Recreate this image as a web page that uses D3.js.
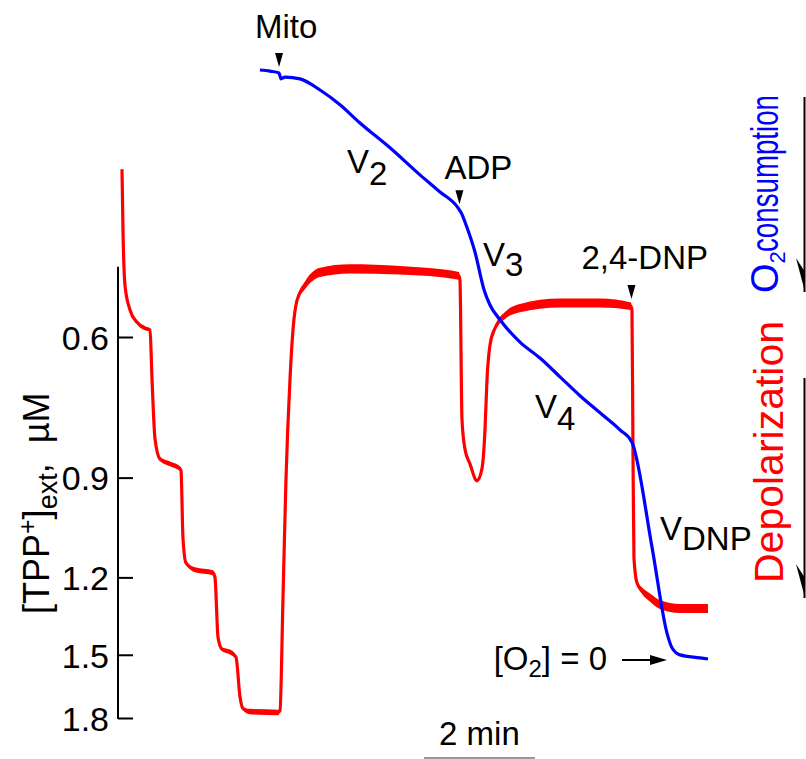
<!DOCTYPE html>
<html><head><meta charset="utf-8">
<script src="https://cdn.jsdelivr.net/npm/d3@7"></script>
<style>
body{margin:0;background:#fff}
svg{display:block}
text{font-family:"Liberation Sans",Arial,Helvetica,sans-serif;fill:#000}
</style>
</head><body>
<svg id="chart" width="806" height="759"></svg>
<script>
// ---- data (time in min, TPP+ in µM, O2 in % of initial) ----
const tppTime  = [0,0.018,0.054,0.144,0.270,0.414,0.505,0.541,0.595,0.685,0.865,1.045,1.063,1.099,1.153,1.315,1.640,1.676,1.730,1.802,1.946,2.054,2.126,2.180,2.306,2.811,2.847,2.901,2.955,3.027,3.081,3.153,3.297,3.568,4.108,5.009,6.072,6.090,6.126,6.180,6.270,6.396,6.486,6.541,6.577,6.631,6.721,6.901,7.171,7.892,8.613,9.171,9.189,9.207,9.225,9.279,9.369,9.514,9.694,10.054,10.559];
const tppValue = [0.370,0.442,0.517,0.555,0.575,0.585,0.588,0.678,0.805,0.853,0.865,0.877,0.882,1.072,1.151,1.174,1.184,1.201,1.426,1.476,1.488,1.510,1.693,1.752,1.767,1.772,1.762,1.272,0.903,0.678,0.588,0.540,0.517,0.498,0.493,0.495,0.503,0.510,0.761,0.829,0.865,0.908,0.877,0.783,0.678,0.614,0.585,0.564,0.552,0.544,0.544,0.549,0.555,0.829,1.135,1.219,1.247,1.272,1.298,1.313,1.313];
// half-width of the electrode noise band (natural-log units)
const tppNoise = [0,0,0,0.004,0.006,0.006,0.004,0,0,0.005,0.007,0.007,0.004,0,0.004,0.007,0.007,0.002,0,0.005,0.007,0.005,0,0.005,0.008,0.008,0.002,0,0,0,0.002,0.007,0.011,0.013,0.013,0.012,0.011,0.002,0,0,0.002,0.005,0.002,0,0,0.002,0.006,0.010,0.012,0.013,0.013,0.011,0.002,0,0,0.005,0.009,0.012,0.013,0.013,0.013];
const o2Time  = [2.486,2.667,2.829,2.865,2.937,3.207,3.568,3.928,4.288,4.829,5.369,5.730,6.054,6.126,6.180,6.360,6.523,6.631,6.811,7.171,7.532,7.892,8.252,8.613,8.973,9.189,9.550,9.820,9.910,10.054,10.414,10.559];
const o2Value = [100,99.8,99.5,98.5,98.8,98.5,96.6,94.1,91.0,86.8,82.2,79.3,76.6,75.5,74.2,69.1,62.7,60.1,57.6,53.8,51.1,47.9,44.7,41.8,38.9,36.8,19.0,4.4,1.9,0.7,0.2,0];
const yTicks = [0.6,0.9,1.2,1.5,1.8];
const eventLabels = ["Mito","ADP","2,4-DNP"];
const eventTimes  = [2.83,6.08,9.18];
const eventTrace  = ["o2","o2","tpp"];
const scaleBarMin = 2;

// ---- scales ----
const svg = d3.select("#chart");
const x = d3.scaleLinear().domain([0,10.559]).range([122,708]);
const yT = d3.scaleLog().domain([0.6,1.8]).range([337,718]);
const yO = d3.scaleLinear().domain([0,100]).range([659,70]);
const FONT = 33;

function interp(ts, vs, t){
  const i = Math.max(1, Math.min(ts.length-1, d3.bisectLeft(ts, t)));
  const f = (t-ts[i-1])/(ts[i]-ts[i-1]);
  return vs[i-1] + f*(vs[i]-vs[i-1]);
}

// ---- y axis ----
const axis = d3.axisLeft(yT).tickValues(yTicks).tickFormat(d3.format(".1f"))
  .tickSizeInner(-15).tickSizeOuter(0).tickPadding(9);
const gA = svg.append("g").attr("transform","translate(118,0)").call(axis);
gA.select(".domain").remove();
gA.selectAll(".tick line").attr("stroke","#000").attr("stroke-width",2);
gA.selectAll(".tick text").attr("font-size",34).attr("font-family","Liberation Sans, Arial, sans-serif").attr("fill","#000").attr("dy","0.36em");
svg.append("line").attr("x1",118).attr("x2",118).attr("y1",yT(0.49)).attr("y2",yT(1.8)+1)
  .attr("stroke","#000").attr("stroke-width",2);

// y title
const yt = svg.append("text").attr("transform","translate(49,614) rotate(-90)")
  .attr("text-anchor","start").attr("font-size",36);
yt.append("tspan").text("[TPP");
yt.append("tspan").text("+").attr("font-size",25).attr("dy",-13);
yt.append("tspan").text("]").attr("dy",13);
yt.append("tspan").text("ext").attr("font-size",27).attr("dy",8);
yt.append("tspan").text(", \u00a0µM").attr("dy",-8);

// ---- traces ----
const bandT = d3.area().x((d,i)=>x(tppTime[i]))
  .y0((d,i)=>yT(tppValue[i]*Math.exp(-tppNoise[i])))
  .y1((d,i)=>yT(tppValue[i]*Math.exp(tppNoise[i])))
  .curve(d3.curveMonotoneX);
const lineT = d3.line().x((d,i)=>x(tppTime[i])).y((d,i)=>yT(tppValue[i])).curve(d3.curveMonotoneX);
const lineO = d3.line().x((d,i)=>x(o2Time[i])).y((d,i)=>yO(o2Value[i])).curve(d3.curveMonotoneX);
svg.append("path").datum(tppValue).attr("d",bandT).attr("fill","#ff0000").attr("stroke","none");
svg.append("path").datum(tppValue).attr("d",lineT).attr("fill","none")
  .attr("stroke","#ff0000").attr("stroke-width",3.2).attr("stroke-linejoin","round");
svg.append("path").datum(o2Value).attr("d",lineO).attr("fill","none")
  .attr("stroke","#0000ff").attr("stroke-width",3.2).attr("stroke-linejoin","round");

// ---- event markers ----
const evLayout = [{gap:6, dx:-24, dy:-29},{gap:6, dx:-15, dy:-25},{gap:9, dx:-50, dy:-30}];
eventLabels.forEach((lab,i)=>{
  const t = eventTimes[i];
  const xx = x(t);
  const yy = eventTrace[i]==="o2" ? yO(interp(o2Time,o2Value,t)) : yT(interp(tppTime,tppValue,t));
  const tip = yy - evLayout[i].gap;
  svg.append("path").attr("d",`M${xx-4},${tip-14}L${xx+4},${tip-14}L${xx},${tip}Z`).attr("fill","#000");
  svg.append("text").attr("x",xx+evLayout[i].dx).attr("y",tip+evLayout[i].dy)
    .attr("font-size",FONT).text(lab);
});

// ---- rate labels ----
const rates = [{s:"2",x:347,y:173,dy:12},{s:"3",x:483,y:266,dy:10},{s:"4",x:535,y:418,dy:12},{s:"DNP",x:660,y:540,dy:10}];
rates.forEach(r=>{
  const t = svg.append("text").attr("x",r.x).attr("y",r.y).attr("font-size",FONT);
  t.append("tspan").text("V");
  t.append("tspan").text(r.s).attr("dy",r.dy);
});

// [O2] = 0
const oz = svg.append("text").attr("x",607).attr("y",670).attr("text-anchor","end").attr("font-size",FONT);
oz.append("tspan").text("[O");
oz.append("tspan").text("2").attr("font-size",24).attr("dy",7);
oz.append("tspan").text("] = 0").attr("dy",-7);
svg.append("line").attr("x1",622).attr("x2",655).attr("y1",660).attr("y2",660).attr("stroke","#000").attr("stroke-width",2);
svg.append("path").attr("d","M650,655L667,660L650,665Z").attr("fill","#000");

// ---- scale bar ----
const sb0 = 5.441;
svg.append("line").attr("x1",x(sb0)).attr("x2",x(sb0+scaleBarMin)).attr("y1",758).attr("y2",758)
  .attr("stroke","#777").attr("stroke-width",1.5);
svg.append("text").attr("x",(x(sb0)+x(sb0+scaleBarMin))/2).attr("y",745).attr("text-anchor","middle")
  .attr("font-size",FONT).text(scaleBarMin+" min");

// ---- right side labels ----
svg.append("text").attr("transform","translate(778,252) rotate(-90)")
  .attr("font-size",38).style("fill","#0000ff")
  .attr("textLength",157).attr("lengthAdjust","spacingAndGlyphs").text("consumption");
const c2 = svg.append("text").attr("transform","translate(778,293) rotate(-90)")
  .attr("font-size",38).style("fill","#0000ff");
c2.append("tspan").text("O");
c2.append("tspan").text("2").attr("font-size",22).attr("dy",7);
svg.append("text").attr("transform","translate(783,583) rotate(-90)")
  .attr("font-size",40).style("fill","#ff0000")
  .attr("textLength",262).attr("lengthAdjust","spacingAndGlyphs").text("Depolarization");

function harpoon(y1,y2){
  svg.append("line").attr("x1",804.5).attr("x2",804.5).attr("y1",y1).attr("y2",y2).attr("stroke","#000").attr("stroke-width",2);
  svg.append("path").attr("d",`M805,${y2}L796,${y2-34}L805,${y2-20}Z`).attr("fill","#000");
}
harpoon(97,292);
harpoon(378,598);
</script>
</body></html>
